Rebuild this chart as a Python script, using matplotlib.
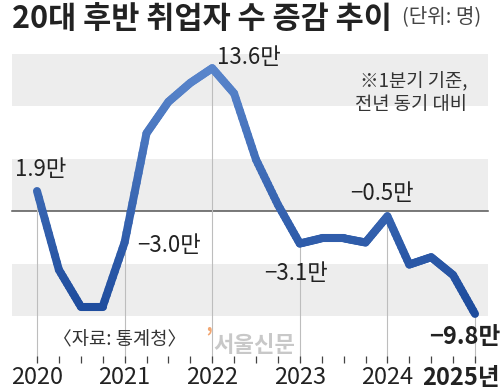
import numpy as np
import matplotlib.pyplot as plt
import matplotlib.transforms as mtransforms
from matplotlib.collections import LineCollection
from matplotlib.colors import LinearSegmentedColormap

plt.rcParams['font.family'] = ['Noto Sans CJK KR', 'DejaVu Sans']

# quarterly change (unit: 10k persons), 2020 Q1 .. 2025 Q1
values = np.array([1.9, -5.6, -9.1, -9.1, -3.0, 7.4, 10.4, 12.2, 13.6,
                   11.2, 4.9, 0.6, -3.1, -2.6, -2.6, -3.0, -0.5, -5.1, -4.4, -6.1, -9.8])
quarters = np.arange(len(values))
year_labels = ['2020', '2021', '2022', '2023', '2024', '2025년']
year_idx = [0, 4, 8, 12, 16, 20]
label_text = ['1.9만', '−3.0만', '13.6만', '−3.1만', '−0.5만', '−9.8만']

W, H = 500, 391
fig = plt.figure(figsize=(W / 100, H / 100), dpi=100)
# pixel mapping: x = 37 + 21.9*i, y = 211 - 10.5*v ; axes bottom at 363px
ax = fig.add_axes([0, (H - 363) / H, 1, 363 / H])
ax.set_xlim(-37 / 21.9, (W - 37) / 21.9)
ax.set_ylim((211 - 363) / 10.5, 211 / 10.5)
for s in ax.spines.values():
    s.set_visible(False)
ax.set_yticks([])

def px(x):
    # pixel x -> quarter index
    return (x - 37) / 21.9

def py(y):
    # pixel y -> value
    return (211 - y) / 10.5

# background bands
bx0, bx1 = 12 / W, 488 / W
for lo, hi in [(10, 15), (0, 5), (-10, -5)]:
    ax.axhspan(lo, hi, xmin=bx0, xmax=bx1, color='#ededed', lw=0, zorder=0)
ax.axhline(0, xmin=bx0, xmax=bx1, color='#555555', lw=1.1, zorder=1)

# drop lines at each year
ybot = ax.get_ylim()[0]
ax.vlines(year_idx, ybot, values[year_idx], color='#bdbdbd', lw=0.8, zorder=1)

# gradient line
xs, ys = [], []
for i in range(len(values) - 1):
    t = np.linspace(0, 1, 12)
    xs.extend(quarters[i] + t * (quarters[i + 1] - quarters[i]))
    ys.extend(values[i] + t * (values[i + 1] - values[i]))
xs, ys = np.array(xs), np.array(ys)
pts = np.column_stack([xs, ys]).reshape(-1, 1, 2)
segs = np.concatenate([pts[:-1], pts[1:]], axis=1)
cmap = LinearSegmentedColormap.from_list('bl', ['#1d4b9c', '#5a86cc'])
lc = LineCollection(segs, cmap=cmap, norm=plt.Normalize(-10, 14),
                    lw=5.8, capstyle='round', joinstyle='round', zorder=3)
lc.set_array((ys[:-1] + ys[1:]) / 2)
ax.add_collection(lc)

# ticks
ax.set_xticks(year_idx)
ax.set_xticks(quarters, minor=True)
ax.set_xticklabels(year_labels, fontsize=17, color='#222222')
ax.tick_params(axis='x', which='both', direction='in', length=5, width=0.9,
               color='#444444', pad=2)
last = ax.get_xticklabels()[-1]
last.set_fontweight('bold')
last.set_horizontalalignment('right')
last.set_transform(last.get_transform() +
                   mtransforms.ScaledTranslation(25 / 100, 0, fig.dpi_scale_trans))

# value labels
tc = '#222222'
ax.text(px(15), py(169), label_text[0], fontsize=16, color=tc, va='center', ha='left')
ax.text(px(137), py(246), label_text[1], fontsize=16, color=tc, va='center', ha='left')
ax.text(px(217), py(57), label_text[2], fontsize=16, color=tc, va='center', ha='left')
ax.text(px(328), py(273), label_text[3], fontsize=16, color=tc, va='center', ha='right')
ax.text(px(382), py(193), label_text[4], fontsize=16, color=tc, va='center', ha='center')
ax.text(px(500), py(337), label_text[5], fontsize=17, color=tc, va='center', ha='right',
        fontweight='bold')

ax.text(px(467), py(93), '※1분기 기준,\n전년 동기 대비', fontsize=13.5,
        color='#333333', ha='right', va='center', linespacing=1.1)
ax.text(px(53), py(340), '〈자료: 통계청〉', fontsize=13.5, color='#333333',
        va='center', ha='left')
ax.text(px(205), py(338), '’', fontsize=16, color='#f2a772', va='center', ha='left',
        fontweight='bold')
ax.text(px(213), py(345), '서울신문', fontsize=16, color='#c8c8c8', va='center', ha='left',
        fontweight='bold')

fig.text(12 / W, 1 - 19 / H, '20대 후반 취업자 수 증감 추이', fontsize=22, fontweight='bold',
         color='#222222', va='center', ha='left')
fig.text(402 / W, 1 - 17 / H, '(단위: 명)', fontsize=14.5, color='#444444',
         va='center', ha='left')

fig.savefig('out.png', dpi=100)
